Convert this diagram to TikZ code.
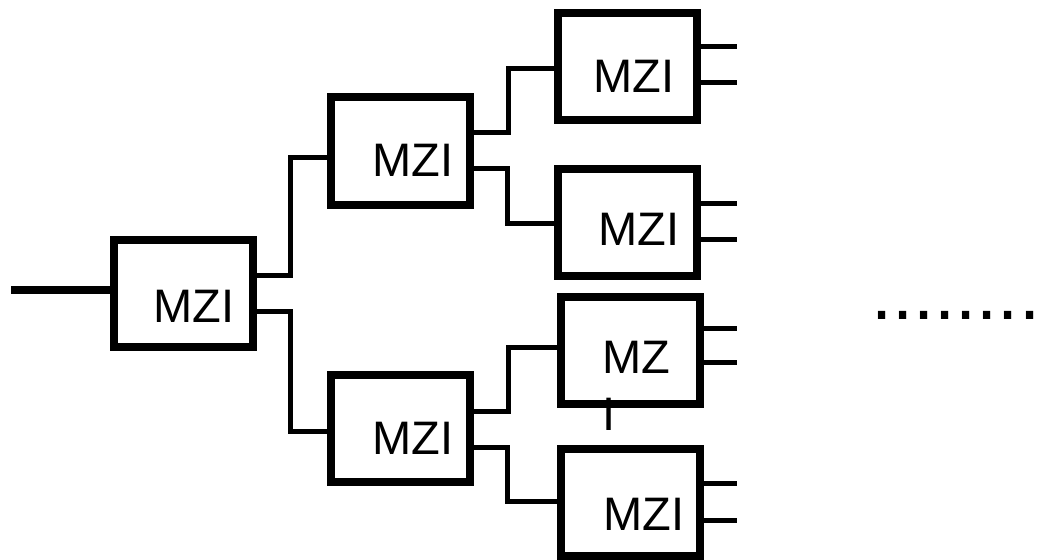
\documentclass[tikz,border=0pt]{standalone}
\usepackage{fontspec}
\setmainfont{Liberation Sans}
\usepackage{tikz}

\tikzset{
  mzibox/.style={draw, line width=8pt, minimum width=139pt, minimum height=107pt, inner sep=0pt},
  mzilabel/.style={anchor=base west, inner sep=0pt, font=\fontsize{47}{57}\selectfont},
  wire/.style={line width=5pt},
}

\begin{document}
\begin{tikzpicture}[x=1pt, y=-1pt]
\useasboundingbox (0,0) rectangle (1048,559);

% splitter tree
\node[mzibox] (m1) at (183.5,293.5) {};
\node[mzibox] (m2) at (400,151) {};
\node[mzibox] (m7) at (400,428.5) {};
\node[mzibox] (m3) at (627.5,66.5) {};
\node[mzibox] (m4) at (627.5,222) {};
\node[mzibox] (m5) at (630,350) {};
\node[mzibox] (m6) at (630,502.5) {};

\node[mzilabel] (t1) at (153.5,322) {MZI};
\node[mzilabel] (t2) at (372.5,176) {MZI};
\node[mzilabel] (t7) at (372.5,454) {MZI};
\node[mzilabel] (t3) at (593.5,93) {MZI};
\node[mzilabel] (t4) at (598.5,245) {MZI};
\node[mzilabel, align=left] (t5) at (602.5,430) {MZ\\I};
\node[mzilabel] (t6) at (603.5,530) {MZI};

% input
\coordinate (in) at (11,290);
\draw[line width=8pt] (in) -- (in -| m1.west);

% connections
\draw[wire] ([yshift=18pt]m1.east) -- ++(33,0) |- ([yshift=-6pt]m2.west);
\draw[wire] ([yshift=-18pt]m1.east) -- ++(33,0) |- ([yshift=-2.5pt]m7.west);
\draw[wire] ([yshift=19pt]m2.east) -- ++(35,0) |- ([yshift=-2.5pt]m3.west);
\draw[wire] ([yshift=-17pt]m2.east) -- ++(34,0) |- ([yshift=-1pt]m4.west);
\draw[wire] ([yshift=17.5pt]m7.east) -- ++(35,0) |- ([yshift=3pt]m5.west);
\draw[wire] ([yshift=-18.5pt]m7.east) -- ++(34,0) |- ([yshift=1.5pt]m6.west);

% outputs
\coordinate (out) at (737,0);
\foreach \n/\a/\b in {m3/19.5/-16, m4/19/-17, m5/22/-12, m6/19.5/-17.5}{
  \draw[wire] ([yshift=\a pt]\n.east) -- ([yshift=\a pt]\n.east -| out);
  \draw[wire] ([yshift=\b pt]\n.east) -- ([yshift=\b pt]\n.east -| out);
}

\node[anchor=base west, inner sep=0pt, font=\fontsize{76}{90}\selectfont] (dots) at (871,319) {........};
\end{tikzpicture}
\end{document}
